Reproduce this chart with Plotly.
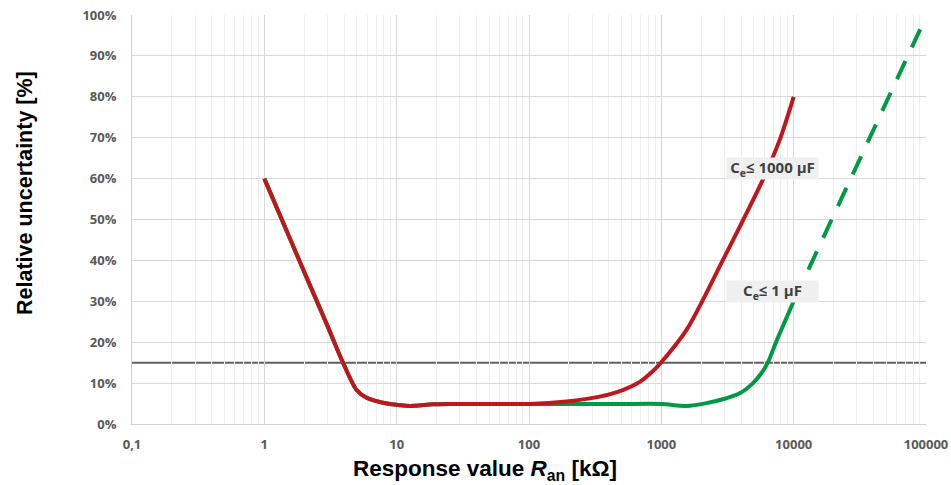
import math
import plotly.graph_objects as go

# ---- data ----
x_red = [1, 2, 3, 3.93, 4.98, 5.93, 7.87, 10.6, 12.6, 18.8, 25, 50, 101, 192, 342, 511, 687, 861, 1000, 1550, 2910, 5840, 7830, 10000]
y_red = [60, 37.2, 24, 15, 8.3, 6.4, 5.2, 4.6, 4.4, 4.8, 4.9, 4.9, 4.9, 5.5, 6.7, 8.3, 10.3, 12.9, 15.1, 23, 40, 59.7, 69.4, 80]

x_green = [1, 2, 3, 3.93, 4.98, 5.93, 7.87, 10.6, 12.6, 18.8, 25, 50, 101, 200, 500, 1000, 1550, 2190, 3100, 3910, 4930, 5700, 6390, 7400, 8310, 10000]
y_green = [60, 37.2, 24, 15, 8.3, 6.4, 5.2, 4.6, 4.4, 4.8, 4.9, 4.9, 4.9, 4.9, 4.9, 4.9, 4.4, 5.1, 6.3, 7.5, 10, 12.4, 15.1, 20.2, 24.0, 30]

x_green_ext = [10000, 95000]
y_green_ext = [30, 98]

threshold_y = 15

x_tickvals = [0.1, 1, 10, 100, 1000, 10000, 100000]
x_ticktext = ["0,1", "1", "10", "100", "1000", "10000", "100000"]
y_tickvals = [0, 10, 20, 30, 40, 50, 60, 70, 80, 90, 100]
y_ticktext = [f"{v}%" for v in y_tickvals]

label_big = "C<sub>e</sub>≤ 1000 µF"
label_small = "C<sub>e</sub>≤ 1 µF"
label_big_pos = (6940, 62.5)
label_small_pos = (6940, 32.3)

RED = "#C0171D"
GREEN = "#009A44"

fig = go.Figure()
fig.add_trace(go.Scatter(x=x_green, y=y_green, mode="lines",
                         line=dict(color=GREEN, width=4, shape="spline", smoothing=0.8)))
fig.add_trace(go.Scatter(x=x_green_ext, y=y_green_ext, mode="lines",
                         line=dict(color=GREEN, width=4, dash="20px,15px")))
fig.add_trace(go.Scatter(x=x_red, y=y_red, mode="lines",
                         line=dict(color=RED, width=4, shape="spline", smoothing=0.8)))

# threshold line across the whole plot width (above gridlines, below curves)
fig.add_shape(type="line", xref="paper", yref="y", x0=0, x1=1, y0=threshold_y, y1=threshold_y,
              line=dict(color="#606060", width=2), layer="between")

tick_font = dict(family="Open Sans, Liberation Sans, Arial", size=13, color="#595959", weight="bold")
fig.update_xaxes(type="log", range=[-1, 5], tickmode="array", tickvals=x_tickvals, ticktext=x_ticktext,
                 showgrid=True, gridcolor="#d9d9d9", gridwidth=1,
                 showline=True, linecolor="#d0d0d0", linewidth=1,
                 ticks="outside", ticklen=8, tickcolor="rgba(0,0,0,0)",
                 tickfont=tick_font, zeroline=False, automargin=False, ticklabeloverflow="allow",
                 minor=dict(dtick="D1", showgrid=True, gridcolor="#eeeeee", gridwidth=1, ticks=""))
fig.update_yaxes(range=[0, 100], tickmode="array", tickvals=y_tickvals, ticktext=y_ticktext,
                 showgrid=True, gridcolor="#d9d9d9", gridwidth=1,
                 showline=True, linecolor="#d0d0d0", linewidth=1,
                 ticks="outside", ticklen=12, tickcolor="rgba(0,0,0,0)",
                 tickfont=tick_font, zeroline=False, automargin=False, ticklabeloverflow="allow")

ann_font = dict(family="Open Sans, Liberation Sans, Arial", size=15, color="#404040", weight="bold")
fig.add_annotation(x=math.log10(label_big_pos[0]), y=label_big_pos[1], xref="x", yref="y",
                   text=label_big, showarrow=False,
                   bgcolor="#efefef", width=91, height=21, borderpad=0, font=ann_font)
fig.add_annotation(x=math.log10(label_small_pos[0]), y=label_small_pos[1], xref="x", yref="y",
                   text=label_small, showarrow=False,
                   bgcolor="#efefef", width=91, height=21, borderpad=0, font=ann_font)

fig.add_annotation(x=-0.1348, y=0.5648, xref="paper", yref="paper", textangle=-90,
                   xanchor="center", yanchor="middle",
                   text="<b>Relative uncertainty [%]</b>", showarrow=False,
                   font=dict(family="Liberation Sans, Arial", size=21.5, color="#000000"))
fig.add_annotation(x=0.4452, y=-0.1125, xref="paper", yref="paper",
                   xanchor="center", yanchor="middle",
                   text="<b>Response value <i>R</i><sub>an</sub> [kΩ]</b>", showarrow=False,
                   font=dict(family="Liberation Sans, Arial", size=22.5, color="#000000"))

fig.update_layout(width=951, height=485, showlegend=False,
                  plot_bgcolor="white", paper_bgcolor="white",
                  margin=dict(l=132, r=25, t=15, b=61))

# remove the default page margin so the figure fills the window exactly
fig.write_html("out.html", config={"displayModeBar": False},
               post_script="document.body.style.margin='0';document.body.style.overflow='hidden';")
